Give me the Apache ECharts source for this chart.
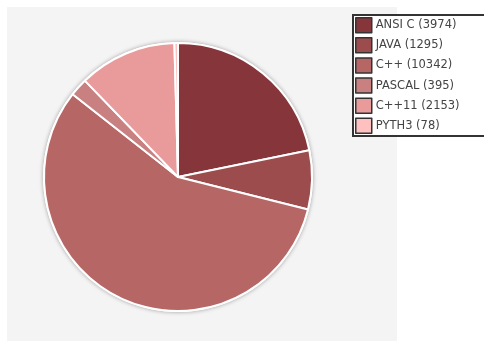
<!DOCTYPE html>
<html><head><meta charset="utf-8">
<script src="https://cdn.jsdelivr.net/npm/echarts@6/dist/echarts.min.js"></script>
<style>html,body{margin:0;padding:0;background:#fff}#c{width:484px;height:341px}</style>
</head><body><div id="c"></div>
<script>
var categories = ['ANSI C', 'JAVA', 'C++', 'PASCAL', 'C++11', 'PYTH3'];
var values = [3974, 1295, 10342, 395, 2153, 78];
var colors = ['#86363a', '#9c4c4c', '#b66664', '#c98080', '#e99a9a', '#ffc0c0'];

var chart = echarts.init(document.getElementById('c'));
var data = categories.map(function (n, i) { return { name: n, value: values[i], itemStyle: { color: colors[i] } }; });
chart.setOption({
  animation: false,
  graphic: [
    { type: 'rect', shape: { x: 7, y: 7, width: 390, height: 334 }, style: { fill: '#f4f4f4' }, z: -10 }
  ],
  legend: {
    orient: 'vertical', left: 353, top: 15,
    backgroundColor: '#fff', borderColor: '#333', borderWidth: 2,
    padding: [2, 40, 2, 2], itemGap: 3.6, itemWidth: 16, itemHeight: 15,
    itemStyle: { borderColor: '#333', borderWidth: 1.5 },
    textStyle: { fontFamily: 'DejaVu Sans', fontSize: 11.5, lineHeight: 16, color: '#444', padding: [0, 0, 0, -1] },
    icon: 'rect',
    data: categories,
    formatter: function (name) { return name + ' (' + values[categories.indexOf(name)] + ')'; }
  },
  series: [
    {
      type: 'pie', center: [178, 177], radius: 135, silent: true, z: 1,
      label: { show: false }, labelLine: { show: false }, legendHoverLink: false,
      itemStyle: { color: '#fff', shadowBlur: 4, shadowColor: 'rgba(0,0,0,0.35)' },
      data: [{ value: 1, name: '_bg' }]
    },
    {
      type: 'pie', center: [178, 177], radius: 134, startAngle: 90, clockwise: true, z: 2,
      label: { show: false }, labelLine: { show: false },
      itemStyle: { borderColor: '#fff', borderWidth: 2 },
      data: data
    }
  ]
});
</script></body></html>
